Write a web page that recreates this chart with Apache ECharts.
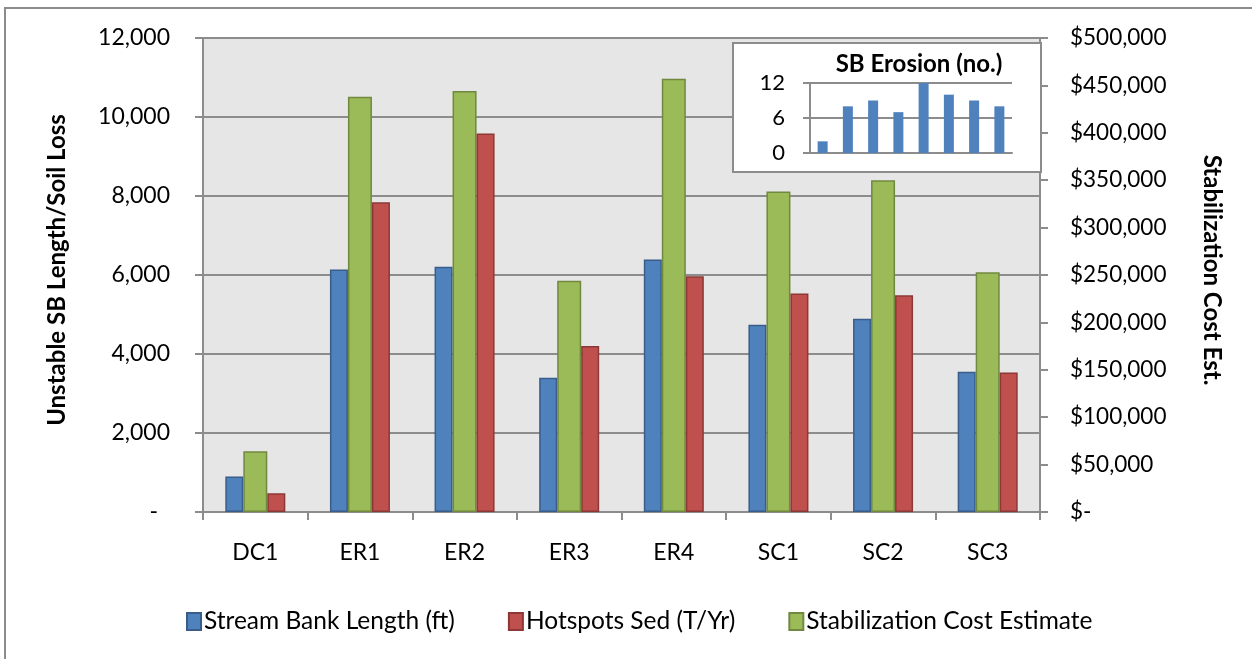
<!DOCTYPE html>
<html>
<head>
<meta charset="utf-8">
<script src="https://cdn.jsdelivr.net/npm/echarts@6/dist/echarts.min.js"></script>
<style>
html,body{margin:0;padding:0;background:#fff;}
#chart{width:1252px;height:659px;}
</style>
</head>
<body>
<div id="chart"></div>
<script>
const categories = ['DC1', 'ER1', 'ER2', 'ER3', 'ER4', 'SC1', 'SC2', 'SC3'];
const streamBankLength = [900, 6140, 6210, 3400, 6390, 4740, 4890, 3550];
const hotspotsSed = [475, 7840, 9580, 4200, 5970, 5530, 5490, 3530];
const stabilizationCost = [64000, 438000, 444000, 244000, 457000, 338000, 350000, 253000];
const sbErosion = [2, 8, 9, 7, 12, 10, 9, 8];
const seriesNames = ['Stream Bank Length (ft)', 'Hotspots Sed (T/Yr)', 'Stabilization Cost Estimate'];

const FONT = 'Lato, "Liberation Sans", sans-serif';
const GRAY = '#8c8c8c';

const chart = echarts.init(document.getElementById('chart'), null, {renderer: 'canvas'});

function fmtThousands(v) {
  return String(v).replace(/\B(?=(\d{3})+(?!\d))/g, ',');
}

const option = {
  animation: false,
  backgroundColor: '#ffffff',
  textStyle: {fontFamily: FONT, color: '#000'},
  grid: [
    {left: 203, top: 38, width: 837, height: 474, show: true, backgroundColor: '#e6e6e6', borderWidth: 0, containLabel: false},
    {left: 810, top: 83, width: 202, height: 70, show: false, containLabel: false}
  ],
  legend: {
    data: seriesNames,
    left: 186, top: 609, padding: 0,
    icon: 'rect', itemWidth: 14, itemHeight: 17, itemGap: 53,
    textStyle: {fontFamily: FONT, fontSize: 24.5, color: '#000', padding: [0, 0, 0, -2]},
    selectedMode: false
  },
  xAxis: [
    {
      type: 'category', gridIndex: 0, data: categories,
      axisLine: {show: true, lineStyle: {color: GRAY, width: 2}},
      axisTick: {show: true, length: 8, lineStyle: {color: GRAY, width: 2}},
      axisLabel: {fontFamily: FONT, fontSize: 23, color: '#000', margin: 29},
      splitLine: {show: false}
    },
    {
      type: 'category', gridIndex: 1, data: categories, z: 20,
      axisLine: {show: true, lineStyle: {color: GRAY, width: 2}},
      axisTick: {show: false},
      axisLabel: {show: false},
      splitLine: {show: false}
    }
  ],
  yAxis: [
    {
      type: 'value', gridIndex: 0, position: 'left', min: 0, max: 12000, interval: 2000,
      axisLine: {show: true, lineStyle: {color: GRAY, width: 2}},
      axisTick: {show: true, length: 8, lineStyle: {color: GRAY, width: 2}},
      axisLabel: {
        fontFamily: FONT, fontSize: 23, color: '#000', margin: 33,
        formatter: function (v) { return v === 0 ? '{d|-}' : fmtThousands(v); },
        rich: {d: {fontFamily: FONT, fontSize: 23, color: '#000', padding: [0, 12, 0, 0]}}
      },
      splitLine: {show: true, lineStyle: {color: GRAY, width: 2}}
    },
    {
      type: 'value', gridIndex: 0, position: 'right', min: 0, max: 500000, interval: 50000,
      axisLine: {show: true, lineStyle: {color: GRAY, width: 2}},
      axisTick: {show: true, length: 8, lineStyle: {color: GRAY, width: 2}},
      axisLabel: {
        fontFamily: FONT, fontSize: 22.5, color: '#000', margin: 30,
        formatter: function (v) { return v === 0 ? '$-' : '$' + fmtThousands(v); }
      },
      splitLine: {show: false}
    },
    {
      type: 'value', gridIndex: 1, min: 0, max: 12, interval: 6, z: 20,
      axisLine: {show: true, lineStyle: {color: GRAY, width: 2}},
      axisTick: {show: true, length: 7, lineStyle: {color: GRAY, width: 2}},
      axisLabel: {fontFamily: FONT, fontSize: 22, color: '#000', margin: 25},
      splitLine: {show: true, lineStyle: {color: GRAY, width: 2}}
    }
  ],
  series: [
    {
      name: seriesNames[0], type: 'bar', xAxisIndex: 0, yAxisIndex: 0,
      data: streamBankLength, barWidth: 18, barGap: '0%',
      itemStyle: {color: '#4f81bd', borderColor: '#385d8a', borderWidth: 1.5}
    },
    {
      name: seriesNames[2], type: 'bar', xAxisIndex: 0, yAxisIndex: 1,
      data: stabilizationCost, barWidth: 24, barGap: '0%',
      itemStyle: {color: '#9bbb59', borderColor: '#71893f', borderWidth: 1.5}
    },
    {
      name: seriesNames[1], type: 'bar', xAxisIndex: 0, yAxisIndex: 0,
      data: hotspotsSed, barWidth: 18, barGap: '0%',
      itemStyle: {color: '#c0504d', borderColor: '#8c3836', borderWidth: 1.5}
    },
    {
      name: 'SB Erosion (no.)', type: 'bar', xAxisIndex: 1, yAxisIndex: 2,
      data: sbErosion, barWidth: 10, z: 20,
      itemStyle: {color: '#4f81bd'}
    }
  ],
  graphic: [
    {
      type: 'rect', z: -10, silent: true,
      shape: {x: 5, y: 8, width: 1400, height: 900},
      style: {fill: 'none', stroke: '#8c8c8c', lineWidth: 2}
    },
    {
      type: 'rect', z: 10, silent: true,
      shape: {x: 733, y: 43, width: 308, height: 129},
      style: {fill: '#ffffff', stroke: '#8c8c8c', lineWidth: 2}
    },
    {
      type: 'text', z: 20, x: 919, y: 64, silent: true,
      style: {text: 'SB Erosion (no.)', fill: '#000', fontFamily: FONT, fontSize: 24, fontWeight: 'bold', align: 'center', verticalAlign: 'middle'}
    },
    {
      type: 'text', z: 20, x: 57, y: 270, rotation: Math.PI / 2, silent: true,
      style: {text: 'Unstable SB Length/Soil Loss', fill: '#000', fontFamily: FONT, fontSize: 24, fontWeight: 'bold', align: 'center', verticalAlign: 'middle'}
    },
    {
      type: 'text', z: 20, x: 1212, y: 270, rotation: -Math.PI / 2, silent: true,
      style: {text: 'Stabilization Cost Est.', fill: '#000', fontFamily: FONT, fontSize: 24, fontWeight: 'bold', align: 'center', verticalAlign: 'middle'}
    }
  ]
};

chart.setOption(option);
</script>
</body>
</html>
